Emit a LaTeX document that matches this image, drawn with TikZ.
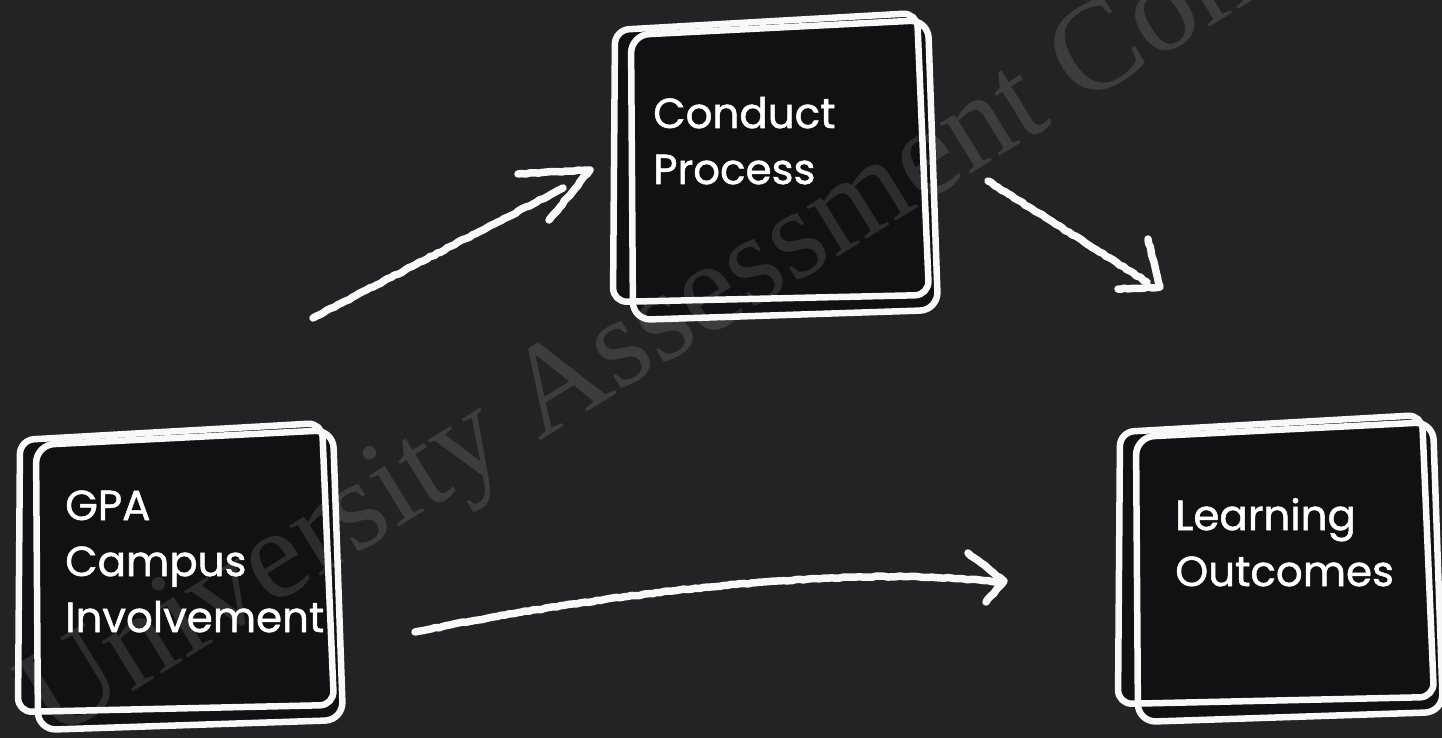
\documentclass[tikz,border=0pt]{standalone}
\usepackage{fontspec}
\setmainfont{Poppins}[RawFeature={embolden=1.2}]
\newfontfamily\wmfont{Liberation Serif}
\usetikzlibrary{decorations.pathmorphing,calc}

\definecolor{board}{HTML}{232326}
\definecolor{boxfill}{HTML}{111113}
\definecolor{chalk}{HTML}{F8F8F8}

\tikzset{
  chalkline/.style={draw=chalk, line width=6.5pt, line cap=round, line join=round},
  chalkstroke/.style={chalkline, line width=7.5pt, decorate,
    decoration={random steps, segment length=4pt, amplitude=0.6pt}},
  boxtext/.style={text=white, font=\fontsize{42}{56}\selectfont, align=left,
    anchor=base west, inner sep=0pt},
  watermark/.style={text=white, text opacity=0.12, inner sep=0pt,
    font=\wmfont\fontsize{128}{128}\selectfont},
  pics/chalkbox/.style={code={
    \fill[boxfill, rounded corners=14pt] (0,0) -- (302,-17) -- (314,265) -- (-2,272) -- cycle;
    \fill[boxfill, rounded corners=14pt] (16,5) -- (313,-10) -- (323,280) -- (18,290) -- cycle;
    \draw[chalkline, rounded corners=14pt] (0,0) -- (302,-17) -- (314,265) -- (-2,272) -- cycle;
    \draw[chalkline, rounded corners=18pt] (16,5) -- (313,-10) -- (323,280) -- (18,290) -- cycle;
  }}
}

\begin{document}
\begin{tikzpicture}[x=1pt, y=-1pt]
  \useasboundingbox (0,0) rectangle (1442,738);
  \fill[board] (0,0) rectangle (1442,738);

  % the three hand-drawn boxes
  \pic at (20,440) {chalkbox};
  \pic at (615,30) {chalkbox};
  \pic at (1120,432) {chalkbox};

  % box labels (placed by the baseline of their last line)
  \node[boxtext] (gpa) at (65,632) {GPA\\Campus\\Involvement};
  \node[boxtext] (conduct) at (653,184) {Conduct\\Process};
  \node[boxtext] (outcomes) at (1175,586) {Learning\\Outcomes};

  % arrow end points
  \pgfmathsetseed{7}
  \coordinate (a1s) at (313,318);
  \coordinate (a1e) at (563,188);
  \coordinate (a1t) at (590,170);
  \coordinate (a2s) at (988,181);
  \coordinate (a2e) at (1147,282);
  \coordinate (a2t) at (1160,287);
  \coordinate (a3s) at (415,632);
  \coordinate (a3e) at (995,582);
  \coordinate (a3t) at (1004,581);

  % GPA -> Conduct Process
  \draw[chalkstroke] (a1s) -- (a1e);
  \draw[chalkstroke] (a1t) ++(-72,4) -- (a1t) -- ++(-41,50);
  % Conduct Process -> Learning Outcomes
  \draw[chalkstroke] (a2s) -- (a2e);
  \draw[chalkstroke] (a2t) ++(-12,-48) -- (a2t) -- ++(-42,2);
  % GPA -> Learning Outcomes
  \draw[chalkstroke] (a3s) .. controls (620,590) and (860,565) .. (a3e);
  \draw[chalkstroke] (a3t) ++(-36,-28) -- (a3t) -- ++(-18,21);

  % diagonal watermark
  \node[watermark, rotate=31.7, anchor=base west] (wm) at (52,742)
    {University Assessment Committee};
\end{tikzpicture}
\end{document}
